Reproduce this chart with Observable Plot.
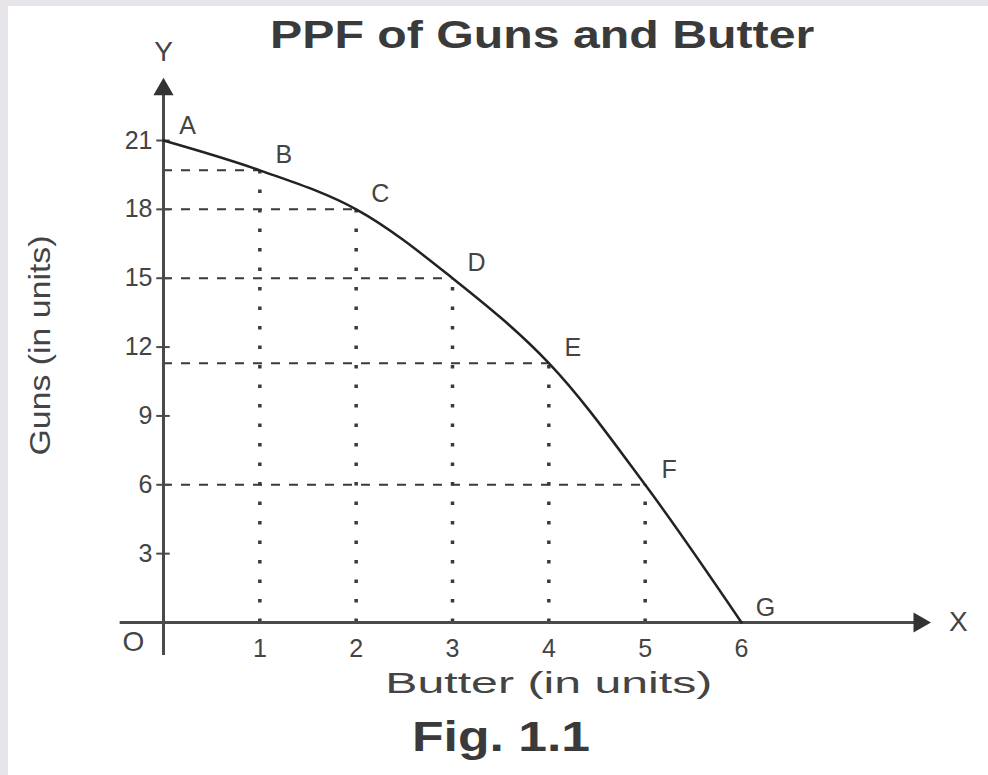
<!DOCTYPE html>
<html><head><meta charset="utf-8">
<script src="https://cdn.jsdelivr.net/npm/d3@7"></script>
<script src="https://cdn.jsdelivr.net/npm/@observablehq/plot@0.6"></script>
<style>
html,body{margin:0;padding:0;background:#fff;}
body{position:relative;border-top:6px solid #e7e5e9;border-left:8px solid #e7e5e9;width:980px;height:769px;overflow:hidden;font-family:"Liberation Sans",Arial,sans-serif;}
#title{position:absolute;left:262px;top:10px;white-space:nowrap;font-weight:bold;font-size:38px;line-height:38px;color:#3a3a3a;transform:scaleX(1.27);transform-origin:left top;}
#caption{position:absolute;left:404px;top:710px;white-space:nowrap;font-weight:bold;font-size:42px;line-height:42px;color:#3a3a3a;transform:scaleX(1.23);transform-origin:left top;}
#chart{position:absolute;left:0;top:0;}
</style></head>
<body>
<div id="chart"></div>
<div id="title">PPF of Guns and Butter</div>
<div id="caption">Fig. 1.1</div>
<script>
const butter = [0, 1, 2, 3, 4, 5, 6];
const guns = [21, 19.7, 18, 15, 11.3, 6, 0];
const pointLabels = ["A", "B", "C", "D", "E", "F", "G"];
const yTicks = [3, 6, 9, 12, 15, 18, 21];
const xTicks = [1, 2, 3, 4, 5, 6];
const xTitle = "Butter (in units)";
const yTitle = "Guns (in units)";

const pts = butter.map((b, i) => ({butter: b, guns: guns[i], label: pointLabels[i]}));
const inner = pts.filter(d => d.butter > 0 && d.guns > 0);

const ink = "#3a3a3a";
const xMax = 7.96, xMin = -0.45, yMax = 23.7, yMin = -1.44;

const chart = Plot.plot({
  width: 980,
  height: 700,
  marginLeft: 155,
  marginRight: 247,
  marginTop: 134,
  marginBottom: 84,
  x: {domain: [0, 6]},
  y: {domain: [0, 21]},
  style: {fontFamily: "'Liberation Sans', Arial, sans-serif", color: ink, background: "transparent", overflow: "visible"},
  marks: [
    // dashed guides
    Plot.ruleY(inner, {y: "guns", x1: 0, x2: "butter", stroke: ink, strokeWidth: 2, strokeDasharray: "9,9"}),
    Plot.ruleX(inner, {x: "butter", y1: 0, y2: "guns", stroke: ink, strokeWidth: 3.5, strokeDasharray: "3.5,16"}),
    // axes lines with arrows
    Plot.ruleX([0], {y1: yMin, y2: yMax - 0.4, stroke: "#4a4a4a", strokeWidth: 3}),
    Plot.ruleY([0], {x1: xMin, x2: xMax - 0.1, stroke: "#4a4a4a", strokeWidth: 3}),
    Plot.dot([yMax], {x: 0, y: d => d, symbol: "triangle", r: 7.5, fill: "#333", stroke: null, dy: 11}),
    Plot.dot([xMax], {x: d => d, y: 0, symbol: "triangle", r: 7.5, fill: "#333", stroke: null, rotate: 90, dx: -11}),
    // y ticks crossing the axis
    Plot.ruleY(yTicks, {y: d => d, x1: -0.07, x2: 0.07, stroke: "#4a4a4a", strokeWidth: 2}),
    Plot.axisY({ticks: yTicks, tickSize: 0, tickPadding: 11, fontSize: 25, label: null, fill: "#444", tickFormat: "d"}),
    Plot.axisX({ticks: xTicks, tickSize: 0, tickPadding: 17, fontSize: 25, label: null, fill: "#444", tickFormat: "d"}),
    // curve
    Plot.line(pts, {x: "butter", y: "guns", curve: "catmull-rom", stroke: "#222", strokeWidth: 2.5}),
    // point labels
    Plot.text(pts, {x: "butter", y: "guns", text: "label", dx: 24, dy: -15, fontSize: 25, fill: "#444"}),
    // axis letters
    Plot.text(["Y"], {x: 0, y: yMax, text: d => d, dy: -26, fontSize: 28, fill: "#444"}),
    Plot.text(["X"], {x: xMax, y: 0, text: d => d, dx: 28, fontSize: 28, fill: "#444"}),
    Plot.text(["O"], {x: 0, y: 0, text: d => d, dx: -30, dy: 20, fontSize: 28, fill: "#444"}),
    // axis titles
    Plot.text([xTitle], {x: 4, y: 0, text: d => d, dy: 61, fontSize: 30, fill: "#444"}),
    Plot.text([yTitle], {frameAnchor: "left", textAnchor: "middle", y: 12.07, text: d => d, dx: -123, rotate: -90, fontSize: 30, fill: "#444"})
  ]
});
d3.select(chart).selectAll("text").each(function () {
  const t = this.textContent;
  if (t === xTitle) { this.setAttribute("textLength", 327); this.setAttribute("lengthAdjust", "spacingAndGlyphs"); }
  if (t === yTitle) { this.setAttribute("textLength", 220); this.setAttribute("lengthAdjust", "spacingAndGlyphs"); }
});
document.getElementById("chart").appendChild(chart);
</script>
</body></html>
